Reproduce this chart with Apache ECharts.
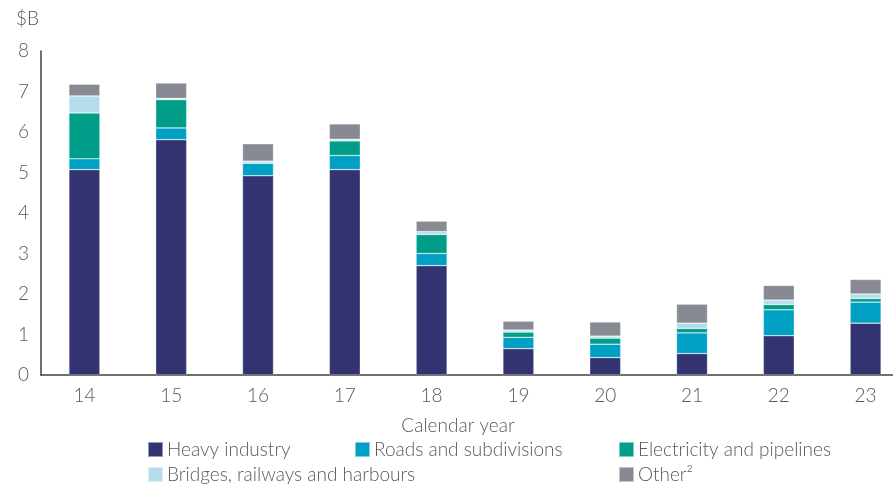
<!DOCTYPE html>
<html>
<head>
<meta charset="utf-8">
<script src="https://cdn.jsdelivr.net/npm/echarts@6/dist/echarts.min.js"></script>
<style>html,body{margin:0;padding:0;background:#fff;overflow:hidden}#c{width:909px;height:488px}</style>
</head>
<body>
<div id="c"></div>
<script>
const categories = ['14','15','16','17','18','19','20','21','22','23'];
const heavyIndustry = [5.07, 5.81, 4.92, 5.07, 2.70, 0.65, 0.43, 0.53, 0.97, 1.28];
const roads = [0.27, 0.29, 0.31, 0.35, 0.30, 0.28, 0.33, 0.51, 0.64, 0.52];
const electricity = [1.13, 0.70, 0.00, 0.36, 0.47, 0.13, 0.15, 0.11, 0.13, 0.09];
const bridges = [0.42, 0.03, 0.05, 0.04, 0.07, 0.05, 0.05, 0.13, 0.11, 0.11];
const other = [0.29, 0.38, 0.43, 0.38, 0.26, 0.22, 0.35, 0.47, 0.36, 0.36];
const yTicks = [0,1,2,3,4,5,6,7,8];

const names = ['Heavy industry','Roads and subdivisions','Electricity and pipelines','Bridges, railways and harbours','Other\u00b2'];
const colors = ['#333371','#00A0C4','#009E89','#B4DCEA','#878A93'];
const datas = [heavyIndustry, roads, electricity, bridges, other];
const font = 'Lato, "DejaVu Sans", sans-serif';
const txt = '#595959';

const legendPos = [[147,440],[354,440],[618,440],[147,465],[618,465]];

const chart = echarts.init(document.getElementById('c'));
chart.setOption({
  animation: false,
  title: {text: '$B', left: 11, top: 4, textStyle: {fontFamily: font, fontSize: 19, fontWeight: 300, color: txt}},
  grid: {left: 41, top: 51, right: 0, bottom: 113, containLabel: false},
  legend: names.map((n, i) => ({
    data: [n], left: legendPos[i][0], top: legendPos[i][1], icon: 'rect',
    itemWidth: 15, itemHeight: 15, padding: 0,
    textStyle: {fontFamily: font, fontSize: 19, fontWeight: 300, color: txt, padding: [0,0,0,-1]}
  })),
  xAxis: {
    type: 'category', data: categories,
    name: 'Calendar year', nameLocation: 'middle', nameGap: 41,
    nameTextStyle: {fontFamily: font, fontSize: 19, fontWeight: 300, color: txt, padding: [0, 34, 0, 0]},
    axisLine: {lineStyle: {color: '#404040', width: 1.5}},
    axisTick: {show: false},
    axisLabel: {fontFamily: font, fontSize: 19, fontWeight: 300, color: txt, margin: 11}
  },
  yAxis: {
    type: 'value', min: 0, max: 8, interval: 1,
    axisLine: {show: true, lineStyle: {color: '#404040', width: 1.5}},
    axisTick: {show: false},
    splitLine: {show: false},
    axisLabel: {fontFamily: font, fontSize: 19, fontWeight: 300, color: txt, margin: 12,
      formatter: v => yTicks.includes(v) ? String(v) : ''}
  },
  series: names.map((n, i) => ({
    name: n, type: 'bar', stack: 'total', data: datas[i], barWidth: 31,
    itemStyle: {color: colors[i], borderColor: 'rgba(255,255,255,0.5)', borderWidth: 0.6}
  }))
});
</script>
</body>
</html>
